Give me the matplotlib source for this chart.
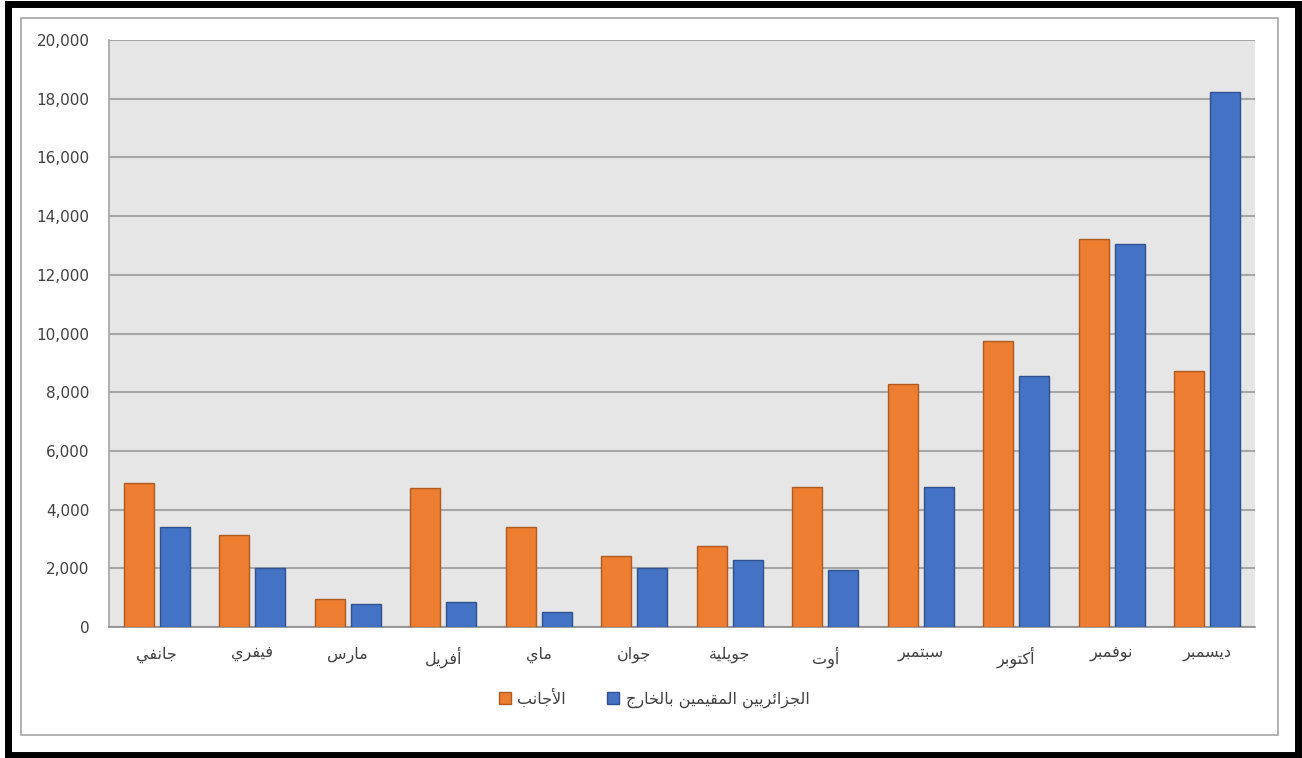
import matplotlib
matplotlib.use("Agg")
import matplotlib.pyplot as plt
import numpy as np
from matplotlib.patches import Rectangle
from matplotlib.ticker import FuncFormatter

# ---- data -------------------------------------------------------------
months = ["جانفي", "فيفري", "مارس", "أفريل", "ماي", "جوان",
          "جويلية", "أوت", "سبتمبر", "أكتوبر", "نوفمبر", "ديسمبر"]
foreigners = [4900, 3130, 950, 4730, 3400, 2420, 2750, 4780, 8280, 9740, 13220, 8720]
residents_abroad = [3400, 2000, 780, 850, 500, 2010, 2280, 1950, 4770, 8550, 13050, 18230]
series_names = ["الأجانب", "الجزائريين المقيمين بالخارج"]
y_ticks = list(range(0, 20001, 2000))

# ---- minimal Arabic shaping (contextual forms + RTL ordering) ---------
# letter -> (first presentation-form code point, number of forms)
_FORMS = {
    "\u0627": (0xFE8D, 2), "\u0623": (0xFE83, 2), "\u0626": (0xFE89, 4),
    "\u0628": (0xFE8F, 4), "\u0629": (0xFE93, 2), "\u062A": (0xFE95, 4),
    "\u062C": (0xFE9D, 4), "\u062E": (0xFEA5, 4), "\u062F": (0xFEA9, 2),
    "\u0631": (0xFEAD, 2), "\u0632": (0xFEAF, 2), "\u0633": (0xFEB1, 4),
    "\u0641": (0xFED1, 4), "\u0642": (0xFED5, 4), "\u0643": (0xFED9, 4),
    "\u0644": (0xFEDD, 4), "\u0645": (0xFEE1, 4), "\u0646": (0xFEE5, 4),
    "\u0648": (0xFEED, 2), "\u064A": (0xFEF1, 4),
}
_LAM_ALEF = {"\u0627": 0xFEFB, "\u0623": 0xFEF7}


def _dual(ch):
    return ch in _FORMS and _FORMS[ch][1] == 4


def shape(text):
    out = []
    i = 0
    n = len(text)
    while i < n:
        ch = text[i]
        prev = text[i - 1] if i > 0 else ""
        joins_prev = _dual(prev) and ch in _FORMS
        if ch == "\u0644" and i + 1 < n and text[i + 1] in _LAM_ALEF:
            base = _LAM_ALEF[text[i + 1]]
            out.append(chr(base + (1 if joins_prev else 0)))
            i += 2
            continue
        if ch not in _FORMS:
            out.append(ch)
            i += 1
            continue
        base, count = _FORMS[ch]
        nxt = text[i + 1] if i + 1 < n else ""
        joins_next = count == 4 and nxt in _FORMS
        if joins_prev and joins_next:
            form = 3
        elif joins_prev:
            form = 1
        elif joins_next:
            form = 2
        else:
            form = 0
        out.append(chr(base + form))
        i += 1
    return "".join(reversed(out))


# ---- figure -----------------------------------------------------------
plt.rcParams["font.family"] = ["DejaVu Sans", "Noto Sans"]
W, H = 1302, 758
fig = plt.figure(figsize=(W / 100, H / 100), dpi=100)
fig.patch.set_facecolor("white")

# outer black frame and inner grey chart border
fig.patches.append(Rectangle((8 / W, 3.5 / H), (1298 - 8) / W, (754.5 - 3.5) / H,
                             transform=fig.transFigure, fill=False,
                             edgecolor="black", linewidth=5.0, zorder=0))
fig.patches.append(Rectangle((21 / W, 1 - 735 / H), (1278 - 21) / W, (735 - 18) / H,
                             transform=fig.transFigure, fill=False,
                             edgecolor="#a6a6a6", linewidth=1.2, zorder=0))

ax = fig.add_axes([109 / W, 1 - 627 / H, (1255 - 109) / W, (627 - 40) / H])
ax.set_facecolor("#e6e6e6")

x = np.arange(len(months))
bw = 0.314
off = 0.188
ax.bar(x - off, foreigners, width=bw, color="#ed7d31", edgecolor="#ae5a21",
       linewidth=1.0, zorder=3, label=shape(series_names[0]))
ax.bar(x + off, residents_abroad, width=bw, color="#4472c4", edgecolor="#2f528f",
       linewidth=1.0, zorder=3, label=shape(series_names[1]))

ax.set_xlim(-0.5, len(months) - 0.5)
ax.set_ylim(0, 20000)
ax.set_yticks(y_ticks)
ax.yaxis.set_major_formatter(FuncFormatter(lambda v, p: f"{int(v):,}"))
ax.set_xticks(x)
ax.set_xticklabels([shape(m) for m in months])
ax.grid(axis="y", color="#a6a6a6", linewidth=1.5, zorder=1)
ax.set_axisbelow(True)
ax.tick_params(axis="both", length=0, labelcolor="#404040")
ax.tick_params(axis="y", pad=14, labelsize=11)
ax.tick_params(axis="x", pad=14, labelsize=11.5)

for side in ("top", "right"):
    ax.spines[side].set_visible(False)
ax.spines["left"].set_color("#a6a6a6")
ax.spines["left"].set_linewidth(1.2)
ax.spines["bottom"].set_color("#8c8c8c")
ax.spines["bottom"].set_linewidth(1.2)

fig.legend(loc="center", bbox_to_anchor=(654 / W, 1 - 698 / H), ncol=2,
           frameon=False, fontsize=11.5, handlelength=0.75, handleheight=0.75,
           handletextpad=0.4, columnspacing=2.6, labelcolor="#404040")

fig.savefig("out.png", dpi=100)
